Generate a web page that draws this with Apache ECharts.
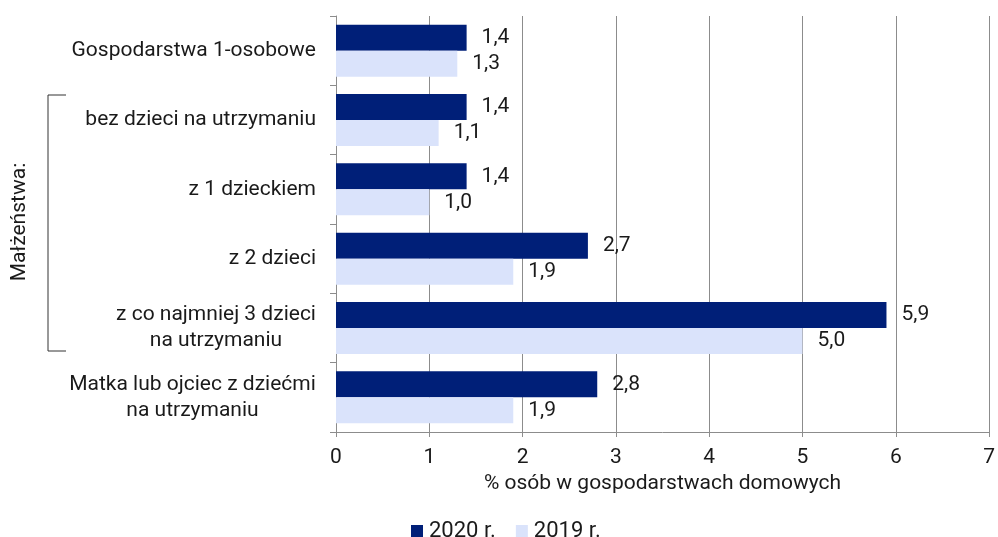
<!DOCTYPE html>
<html><head><meta charset="utf-8">
<script src="https://cdn.jsdelivr.net/npm/echarts@6/dist/echarts.min.js"></script>
<style>html,body{margin:0;padding:0;background:#fff}#c{width:998px;height:537px}</style>
</head><body><div id="c"></div>
<script>
const categories = ['Gospodarstwa 1-osobowe','bez dzieci na utrzymaniu','z 1 dzieckiem','z 2 dzieci','z co najmniej 3 dzieci\nna utrzymaniu','Matka lub ojciec z dziećmi\nna utrzymaniu'];
const values2020 = [1.4, 1.4, 1.4, 2.7, 5.9, 2.8];
const values2019 = [1.3, 1.1, 1.0, 1.9, 5.0, 1.9];
const seriesNames = ['2020 r.', '2019 r.'];
const xTicks = [0, 7, 1];
const groupLabel = 'Małżeństwa:';
const axisTitle = '% osób w gospodarstwach domowych';

const FONT = 'Roboto';
const FS = 21;
const TXT = '#1a1a1a';
const GRID = '#8c8c8c';
const ctx = document.createElement('canvas').getContext('2d');
ctx.font = FS + 'px ' + FONT;
const maxW = {};
categories.forEach(v => {
  const ls = v.split('\n');
  if (ls.length > 1) maxW[v] = Math.ceil(Math.max(...ls.map(l => ctx.measureText(l).width)));
});
const rich = {};
Object.values(maxW).forEach(m => {
  rich['w' + m] = {fontSize: FS, fontFamily: FONT, color: TXT, lineHeight: 26, align: 'center', width: m};
});

const chart = echarts.init(document.getElementById('c'));
const lbl = {show: true, position: 'right', distance: 15, color: TXT, fontFamily: FONT, fontSize: FS,
  formatter: p => p.value.toFixed(1).replace('.', ',')};
chart.setOption({
  animation: false,
  textStyle: {fontFamily: FONT},
  grid: {left: 336, right: 7, top: 16, bottom: 105, containLabel: false},
  xAxis: {type: 'value', min: xTicks[0], max: xTicks[1], interval: xTicks[2],
    axisLine: {show: true, lineStyle: {color: GRID}},
    axisTick: {show: true, length: 5, lineStyle: {color: GRID}},
    splitLine: {show: true, lineStyle: {color: GRID, width: 1}},
    axisLabel: {color: TXT, fontSize: FS, fontFamily: FONT, margin: 15},
    name: axisTitle, nameLocation: 'middle', nameGap: 40,
    nameTextStyle: {color: TXT, fontSize: FS, fontFamily: FONT}},
  yAxis: {type: 'category', data: categories, inverse: true,
    axisLine: {show: true, lineStyle: {color: GRID}},
    axisTick: {show: true, length: 6, lineStyle: {color: GRID}},
    axisLabel: {color: TXT, fontSize: FS, fontFamily: FONT, margin: 20, lineHeight: 26,
      formatter: v => {
        const ls = v.split('\n');
        if (ls.length === 1) return v;
        const key = 'w' + maxW[v];
        return ls.map(l => '{' + key + '|' + l + '}').join('\n');
      },
      rich: rich}},
  legend: {top: 515, left: 406, icon: 'rect', itemWidth: 12, itemHeight: 12, itemGap: 20,
    textStyle: {color: TXT, fontSize: 22, fontFamily: FONT, padding: [0, 0, 0, 1]}, data: seriesNames},
  series: [
    {name: seriesNames[0], type: 'bar', data: values2020, barWidth: 26, barGap: '0%', itemStyle: {color: '#001f78'}, label: lbl},
    {name: seriesNames[1], type: 'bar', data: values2019, barWidth: 26, itemStyle: {color: '#dae3fb'}, label: lbl}
  ],
  graphic: [
    {type: 'polyline', shape: {points: [[66, 95], [48, 95], [48, 351], [66, 351]]}, style: {stroke: '#333', lineWidth: 1, fill: null}},
    {type: 'text', x: 20, y: 222, rotation: Math.PI / 2, style: {text: groupLabel, fill: TXT, font: FS + 'px ' + FONT, align: 'center', verticalAlign: 'middle'}}
  ]
});
</script></body></html>
